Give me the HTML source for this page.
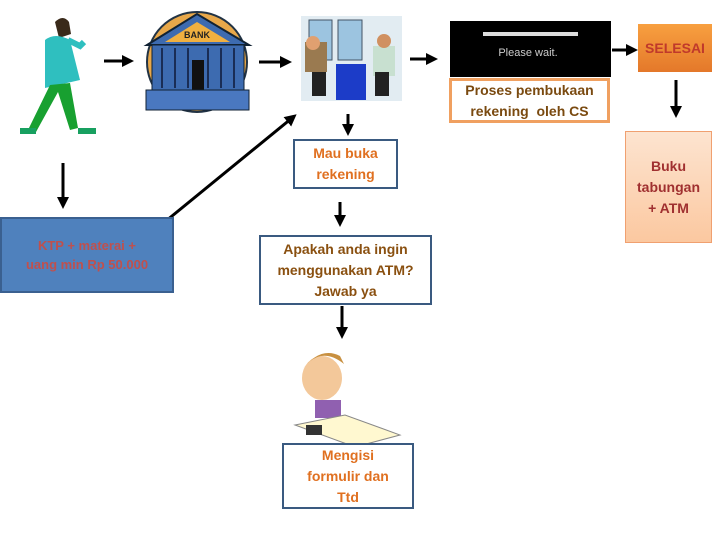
<!DOCTYPE html>
<html><head><meta charset="utf-8"><style>
body{margin:0;width:720px;height:540px;background:#fff;overflow:hidden;position:relative;font-family:"Liberation Sans",sans-serif}
.b{position:absolute;box-sizing:border-box;display:flex;align-items:center;justify-content:center;text-align:center;font-weight:bold;font-size:14px;line-height:21px}
</style></head><body>
<svg width="720" height="540" style="position:absolute;left:0;top:0">
<defs><marker id="a" markerWidth="4" markerHeight="4" refX="2" refY="2" orient="auto"><path d="M0,0 L4,2 L0,4 z" fill="#000"/></marker></defs>
<g stroke="#000" stroke-width="3" fill="none" marker-end="url(#a)">
<line x1="104" y1="61" x2="128" y2="61"/>
<line x1="259" y1="62" x2="286" y2="62"/>
<line x1="410" y1="59" x2="432" y2="59"/>
<line x1="612" y1="50" x2="632" y2="50"/>
<line x1="676" y1="80" x2="676" y2="112"/>
<line x1="63" y1="163" x2="63" y2="203"/>
<line x1="150" y1="234" x2="292" y2="118"/>
<line x1="348" y1="114" x2="348" y2="130"/>
<line x1="340" y1="202" x2="340" y2="221"/>
<line x1="342" y1="306" x2="342" y2="333"/>
</g>
<!-- woman -->
<g>
<path d="M55,22 q8,-8 14,0 l2,12 -12,4z" fill="#3a2a1a"/>
<path d="M45,40 q10,-8 25,0 l10,40 -35,8z" fill="#2fbfbf"/>
<path d="M68,40 l12,6 l4,-4" stroke="#2fbfbf" stroke-width="6" fill="none"/>
<path d="M50,85 l-22,45 8,2 22,-40 12,38 8,-2 -8,-45z" fill="#18a030"/>
<rect x="20" y="128" width="16" height="6" fill="#18a060"/><rect x="78" y="128" width="18" height="6" fill="#18a060"/>
</g>
<!-- bank -->
<g>
<circle cx="197" cy="62" r="50" fill="#e8a84a" stroke="#234" stroke-width="2"/>
<path d="M147,45 L197,14 L249,45z" fill="#3d6bb0" stroke="#123" stroke-width="2"/>
<path d="M165,42 L197,22 L230,42z" fill="#f0b040"/>
<text x="197" y="38" font-size="9" font-weight="bold" text-anchor="middle" fill="#222">BANK</text>
<rect x="152" y="45" width="92" height="45" fill="#3d6bb0" stroke="#123"/>
<g stroke="#1a2d55" stroke-width="2"><line x1="162" y1="48" x2="162" y2="88"/><line x1="175" y1="48" x2="175" y2="88"/><line x1="188" y1="48" x2="188" y2="88"/><line x1="208" y1="48" x2="208" y2="88"/><line x1="221" y1="48" x2="221" y2="88"/><line x1="234" y1="48" x2="234" y2="88"/></g>
<rect x="192" y="60" width="12" height="30" fill="#111"/>
<rect x="146" y="90" width="103" height="20" fill="#4a78c0" stroke="#123"/>
</g>
<!-- CS -->
<g>
<rect x="301" y="16" width="101" height="85" fill="#e2ecf2"/>
<rect x="309" y="20" width="23" height="40" fill="#9cc4e0" stroke="#456"/>
<rect x="338" y="20" width="24" height="40" fill="#9cc4e0" stroke="#456"/>
<rect x="336" y="64" width="30" height="36" fill="#1c3cc8"/>
<rect x="305" y="42" width="22" height="30" fill="#9a7a50"/><circle cx="313" cy="43" r="7" fill="#e0a070"/>
<rect x="373" y="46" width="22" height="30" fill="#c8e0d0"/><circle cx="384" cy="41" r="7" fill="#d09060"/>
<rect x="312" y="72" width="14" height="24" fill="#222"/><rect x="375" y="72" width="14" height="24" fill="#222"/>
</g>
<!-- black wait -->
<rect x="450" y="21" width="161" height="56" fill="#000"/>
<rect x="483" y="32" width="95" height="4" fill="#ddd"/>
<text x="528" y="56" font-size="11" fill="#ccc" text-anchor="middle">Please wait.</text>
<!-- writer -->
<g>
<ellipse cx="322" cy="378" rx="20" ry="22" fill="#f3c89a"/>
<path d="M302,370 q18,-25 42,-6 l-4,-8 q-20,-10 -38,14z" fill="#c89040"/>
<rect x="315" y="400" width="26" height="18" fill="#9060b0"/>
<path d="M295,425 l50,-10 55,20 -45,12z" fill="#fff8d0" stroke="#888"/>
<rect x="306" y="425" width="16" height="10" fill="#333"/>
</g>
</svg>
<div class="b" style="left:638px;top:24px;width:74px;height:48px;background:linear-gradient(#f8a040,#e4782a);color:#c0392b;font-size:14px">SELESAI</div>
<div class="b" style="left:449px;top:78px;width:161px;height:45px;border:3px solid #f0a060;color:#7a4a10;background:#fff">Proses pembukaan<br>rekening&nbsp; oleh CS</div>
<div class="b" style="left:625px;top:131px;width:87px;height:112px;border:1px solid #f0a070;background:linear-gradient(#fde4d0,#fbc8a0);color:#a03030">Buku<br>tabungan<br>+ ATM</div>
<div class="b" style="left:0px;top:217px;width:174px;height:76px;background:#4f81bd;border:2px solid #3a6090;color:#c0504d;font-size:13px;line-height:19px">KTP + materai +<br>uang min Rp 50.000</div>
<div class="b" style="left:293px;top:139px;width:105px;height:50px;border:2px solid #3a5a80;color:#e07020;background:#fff">Mau buka<br>rekening</div>
<div class="b" style="left:259px;top:235px;width:173px;height:70px;border:2px solid #3a5a80;color:#8a5010;background:#fff">Apakah anda ingin<br>menggunakan ATM?<br>Jawab ya</div>
<div class="b" style="left:282px;top:443px;width:132px;height:66px;border:2px solid #3a5a80;color:#e07020;background:#fff">Mengisi<br>formulir dan<br>Ttd</div>
</body></html>
